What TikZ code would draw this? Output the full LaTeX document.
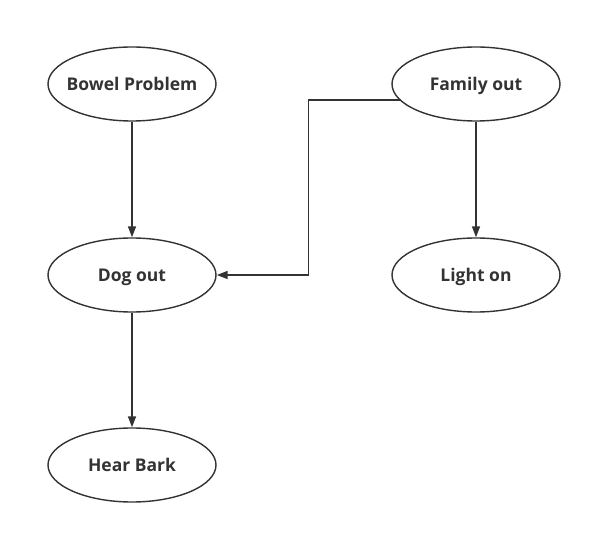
\documentclass[tikz,border=0pt]{standalone}
\usepackage{fontspec}
\setmainfont{Open Sans}
\usetikzlibrary{shapes.geometric,arrows.meta,calc}
\definecolor{ink}{HTML}{333333}
\begin{document}
\begin{tikzpicture}[x=1pt,y=-1pt,
  state/.style={ellipse,draw=ink,line width=1.4pt,minimum width=168pt,minimum height=74pt,inner ysep=0pt,inner xsep=-30pt,
    font=\fontsize{17.5}{20}\selectfont\bfseries,text=ink,text height=12.5pt,text depth=0pt},
  link/.style={draw=ink,line width=1.5pt,-{Triangle[length=11pt,width=8pt]}}]
\useasboundingbox (0,0) rectangle (592,534);
\node[state] (bowel) at (132,84) {Bowel Problem};
\node[state] (fam) at (476,84) {Family out};
\node[state] (dog) at (132,275) {Dog out};
\node[state] (light) at (476,275) {Light on};
\node[state] (bark) at (132,465) {Hear Bark};
\draw[link] (bowel) -- (dog);
\draw[link] (fam) -- (light);
\draw[link] (dog) -- (bark);
\draw[link] (fam.192.5) -| ($(dog.east)+(92,0)$) -- (dog.east);
\end{tikzpicture}
\end{document}
